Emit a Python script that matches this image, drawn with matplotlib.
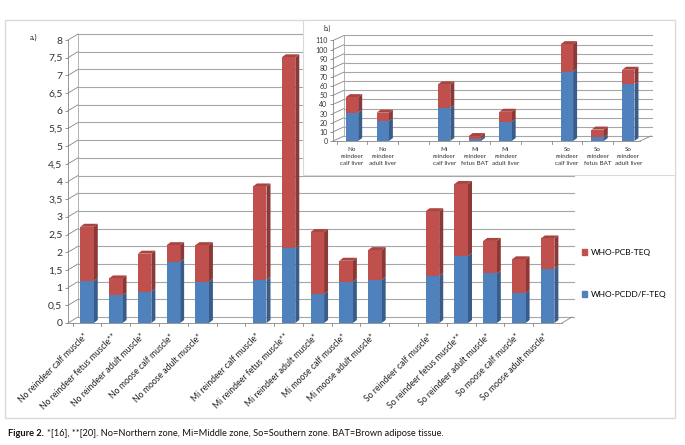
import matplotlib
matplotlib.use("Agg")
import matplotlib.pyplot as plt
from matplotlib.patches import Polygon, Rectangle, Patch
from matplotlib.transforms import ScaledTranslation, blended_transform_factory
import numpy as np

plt.rcParams['font.family'] = ['Lato', 'DejaVu Sans']

# ---------------- data ----------------
main_categories = [
    "No reindeer calf muscle*", "No reindeer fetus muscle**", "No reindeer adult muscle*",
    "No moose calf muscle*", "No moose adult muscle*",
    "Mi reindeer calf muscle*", "Mi reindeer fetus muscle**", "Mi reindeer adult muscle*",
    "Mi moose calf muscle*", "Mi moose adult muscle*",
    "So reindeer calf muscle*", "So reindeer fetus muscle**", "So reindeer adult muscle*",
    "So moose calf muscle*", "So moose adult muscle*",
]
main_pcdd = [1.19, 0.78, 0.89, 1.73, 1.17, 1.22, 2.12, 0.82, 1.17, 1.22, 1.33, 1.90, 1.40, 0.84, 1.54]
main_pcb = [1.53, 0.48, 1.07, 0.47, 1.03, 2.64, 5.39, 1.75, 0.59, 0.84, 1.83, 2.03, 0.92, 0.96, 0.85]
main_slots = [0, 1, 2, 3, 4, 6, 7, 8, 9, 10, 12, 13, 14, 15, 16]
main_yticks = [0, 0.5, 1, 1.5, 2, 2.5, 3, 3.5, 4, 4.5, 5, 5.5, 6, 6.5, 7, 7.5, 8]

inset_categories = ["No\nreindeer\ncalf liver", "No\nreindeer\nadult liver",
                    "Mi\nreindeer\ncalf liver", "Mi\nreindeer\nfetus BAT", "Mi\nreindeer\nadult liver",
                    "So\nreindeer\ncalf liver", "So\nreindeer\nfetus BAT", "So\nreindeer\nadult liver"]
inset_pcdd = [31, 22, 36, 2.5, 21, 76, 4, 62]
inset_pcb = [17, 9, 26, 2.9, 11, 30, 8.5, 16]
inset_slots = [0, 1, 3, 4, 5, 7, 8, 9]
inset_yticks = list(range(0, 111, 10))

series_names = ["WHO-PCDD/F-TEQ", "WHO-PCB-TEQ"]

BLUE, BLUE_S, BLUE_T = "#4F81BD", "#385D8A", "#6A95CC"
RED, RED_S, RED_T = "#C0504D", "#8C3836", "#A94441"
GRID = "#A6A6A6"
AXC = "#868686"

W, H = 685, 445
fig = plt.figure(figsize=(W / 100, H / 100), dpi=100)


def fr(x0, y0, x1, y1):
    return [x0 / W, 1 - y1 / H, (x1 - x0) / W, (y1 - y0) / H]


# outer border
fig.patches.append(Rectangle((5 / W, 1 - 418 / H), 670 / W, 398 / H, transform=fig.transFigure,
                             fill=False, edgecolor="#D9D9D9", lw=1.0))


def draw_3d(ax, slots, lower, upper, xlim, ylim, yticks, ylabels, grid_off, bar_off, width,
            fs_y, xgrid_end):
    ax.set_xlim(*xlim)
    ax.set_ylim(*ylim)
    ax.set_facecolor("none")
    for s in ax.spines.values():
        s.set_visible(False)
    bb = ax.get_position()
    wpx = bb.width * W
    hpx = bb.height * H
    sx = (xlim[1] - xlim[0]) / wpx
    sy = (ylim[1] - ylim[0]) / hpx
    gdx, gdy = grid_off[0] * sx, grid_off[1] * sy
    bdx, bdy = bar_off[0] * sx, bar_off[1] * sy
    x0, x1 = xlim
    for v in yticks:
        ax.plot([x0 + gdx, xgrid_end], [v + gdy, v + gdy], color=GRID, lw=0.8, zorder=0, clip_on=False)
        ax.plot([x0, x0 + gdx], [v, v + gdy], color=AXC, lw=0.6, zorder=0, clip_on=False)
    ax.plot([x0, x0], [ylim[0], yticks[-1]], color=AXC, lw=0.6, zorder=0, clip_on=False)
    ax.plot([x0 + gdx, x0 + gdx], [ylim[0] + gdy, yticks[-1] + gdy], color=GRID, lw=0.6, zorder=0, clip_on=False)
    ax.plot([x0, x1], [0, 0], color=AXC, lw=0.6, zorder=0, clip_on=False)
    ax.plot([x1, x1 + gdx], [0, gdy], color=AXC, lw=0.6, zorder=0, clip_on=False)
    ax.set_yticks(yticks)
    ax.set_yticklabels(ylabels, fontsize=fs_y, color="#333333")
    ax.tick_params(axis="y", length=2, color=AXC, width=0.6, pad=2)
    ax.set_xticks([])
    for b in np.arange(np.floor(x0) + 0.5, x1, 1.0):
        if x0 <= b <= x1:
            ax.plot([b, b], [0, -3 * sy], color=AXC, lw=0.6, clip_on=False, zorder=0)
    top = np.array(lower) + np.array(upper)
    ax.bar(slots, lower, width=width, color=BLUE, zorder=3, linewidth=0)
    ax.bar(slots, upper, bottom=lower, width=width, color=RED, zorder=3, linewidth=0)
    for x, lo, tp in zip(slots, lower, top):
        xr = x + width / 2
        xl = x - width / 2
        ax.add_patch(Polygon([(xr, 0), (xr, lo), (xr + bdx, lo + bdy), (xr + bdx, bdy)],
                             closed=True, color=BLUE_S, lw=0, zorder=2.9, clip_on=False))
        ax.add_patch(Polygon([(xr, lo), (xr, tp), (xr + bdx, tp + bdy), (xr + bdx, lo + bdy)],
                             closed=True, color=RED_S, lw=0, zorder=2.9, clip_on=False))
        ax.add_patch(Polygon([(xl, tp), (xr, tp), (xr + bdx, tp + bdy), (xl + bdx, tp + bdy)],
                             closed=True, color=RED_T, lw=0, zorder=2.9, clip_on=False))
    return sx, sy


# ---------------- main chart ----------------
ax = fig.add_axes(fr(68, 40, 562, 323))
main_ylabels = [("%g" % v).replace(".", ",") for v in main_yticks]
sx, sy = draw_3d(ax, main_slots, main_pcdd, main_pcb, (-0.66, 16.5), (0, 8), main_yticks,
                 main_ylabels, (10, 6), (4, 3), 0.47, 7.5, 16.9)

off = ScaledTranslation(-4 / 100, -9 / 100, fig.dpi_scale_trans)
trans = blended_transform_factory(ax.transData, ax.transAxes) + off
for x, lab in zip(main_slots, main_categories):
    ax.text(x, 0, lab, rotation=45, ha="right", va="top", rotation_mode="anchor",
            fontsize=6.2, color="#222222", transform=trans)

fig.text(30 / W, 1 - 37 / H, "a.)", fontsize=5.5, color="#222222", va="center")

handles = [Patch(color=RED, label=series_names[1]), Patch(color=BLUE, label=series_names[0])]
fig.legend(handles=handles, loc="upper left", bbox_to_anchor=(582 / W, 1 - 249 / H),
           frameon=False, fontsize=6, handlelength=0.65, handleheight=0.65, handletextpad=0.4,
           labelspacing=4.2, borderpad=0, borderaxespad=0)

# ---------------- inset chart ----------------
fig.patches.append(Rectangle((303 / W, 1 - 175 / H), 372 / W, 155 / H, transform=fig.transFigure,
                             facecolor="white", edgecolor="#D9D9D9", lw=0.8, zorder=1))
axi = fig.add_axes(fr(333, 40.5, 640, 141))
axi.set_zorder(2)
inset_ylabels = ["%d" % v for v in inset_yticks]
draw_3d(axi, inset_slots, inset_pcdd, inset_pcb, (-0.62, 9.38), (0, 110), inset_yticks,
        inset_ylabels, (11, 5), (4, 3), 0.4, 5, 9.76)
ti = blended_transform_factory(axi.transData, axi.transAxes) + ScaledTranslation(0, -6 / 100, fig.dpi_scale_trans)
for x, lab in zip(inset_slots, inset_categories):
    axi.text(x, 0, lab, ha="center", va="top", fontsize=4.5, color="#333333",
             linespacing=1.55, transform=ti)
fig.text(323 / W, 1 - 28 / H, "b.)", fontsize=5, color="#222222", va="center")

# ---------------- caption ----------------
fig.canvas.draw()
r = fig.canvas.get_renderer()
t1 = fig.text(8 / W, 1 - 433 / H, "Figure 2.", fontsize=6.7, fontweight="bold", va="center", color="#111111")
bb = t1.get_window_extent(renderer=r)
fig.text((bb.x1 + 3) / W, 1 - 433 / H,
         "*[16], **[20]. No=Northern zone, Mi=Middle zone, So=Southern zone. BAT=Brown adipose tissue.",
         fontsize=6.7, va="center", color="#111111")

fig.savefig("out.png", dpi=100)
